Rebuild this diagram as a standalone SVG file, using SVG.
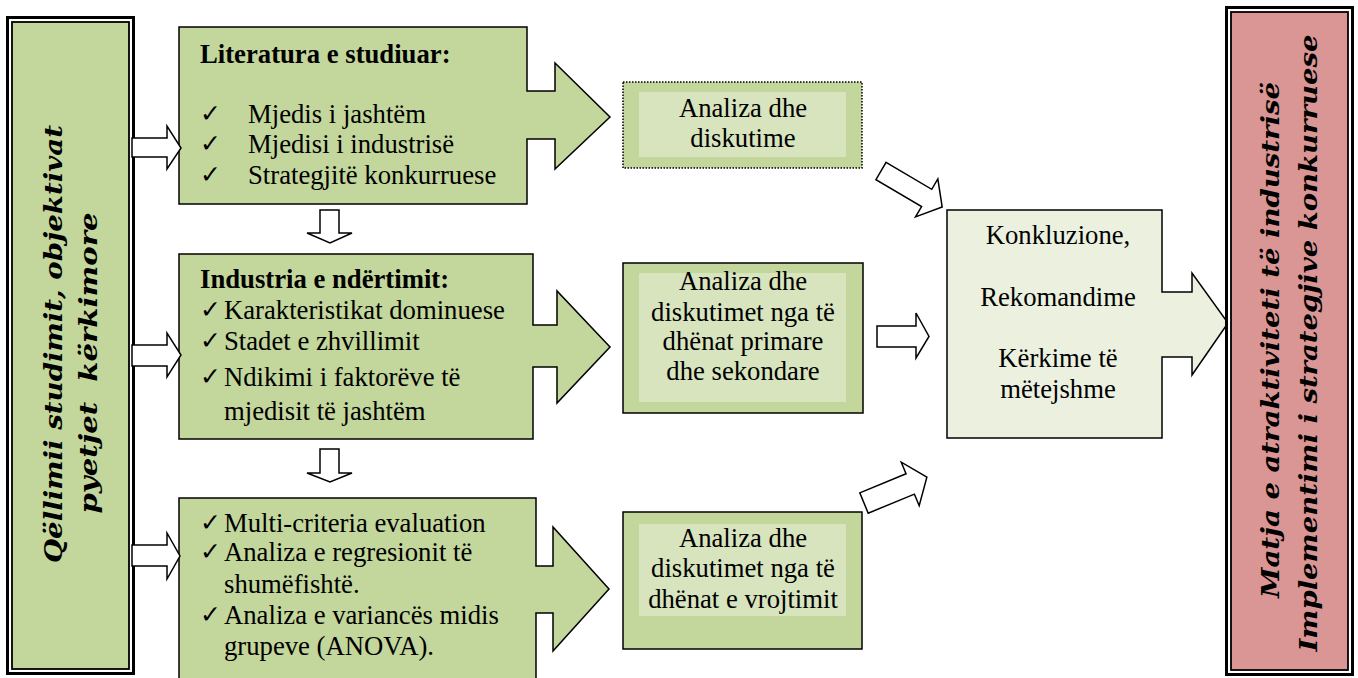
<svg xmlns="http://www.w3.org/2000/svg" width="1358" height="678" viewBox="0 0 1358 678">
  <style>
    .frame-out{fill:#fff;stroke:#000;stroke-width:3}
    .frame-in{stroke:#000;stroke-width:1.8}
    .green{fill:#c3d69b}
    .pink{fill:#d99694}
    .node{fill:#c3d69b;stroke:#000;stroke-width:1.5;stroke-linejoin:miter}
    .light{fill:#ebf1de;stroke:#000;stroke-width:1.5;stroke-linejoin:miter}
    .inner{fill:#d7e4bd}
    .hollow{fill:#fff;stroke:#000;stroke-width:1.5;stroke-linejoin:miter}
    .t{font-family:"Liberation Serif","Times New Roman",serif;font-size:26.7px;fill:#000}
    .b{font-weight:bold}
    .c{text-anchor:middle}
    .chk{font-family:"DejaVu Sans",sans-serif;font-size:25px;fill:#000}
    .rot{font-family:"DejaVu Serif",serif;font-weight:bold;font-style:italic;font-size:25px;fill:#000;text-anchor:middle}
  </style>

  <!-- left column: aim, objectives, questions -->
  <g id="aim">
    <rect class="frame-out" x="7.5" y="17.5" width="126" height="656"/>
    <rect class="frame-in green" x="12" y="22" width="117" height="647"/>
    <text class="rot" transform="translate(62,344) rotate(-90)" textLength="438" lengthAdjust="spacingAndGlyphs">Qëllimii studimit, objektivat</text>
    <text class="rot" transform="translate(97,363) rotate(-90)" textLength="301" lengthAdjust="spacingAndGlyphs" xml:space="preserve">pyetjet  kërkimore</text>
  </g>

  <!-- literature block -->
  <g id="literature">
    <path class="node" d="M179,27 H527 V91 H555 V63 L610,117 L555,169 V139 H527 V204 H179 Z"/>
    <text class="t b" x="200" y="63">Literatura e studiuar:</text>
    <text class="chk" x="200" y="122">✓</text>
    <text class="chk" x="200" y="152">✓</text>
    <text class="chk" x="200" y="183">✓</text>
    <text class="t" x="248" y="123">Mjedis i jashtëm</text>
    <text class="t" x="248" y="153">Mjedisi i industrisë</text>
    <text class="t" x="248" y="184">Strategjitë konkurruese</text>
  </g>

  <!-- construction industry block -->
  <g id="industry">
    <path class="node" d="M179,254 H533 V325 H557 V291 L610,347 L557,403 V367 H533 V439 H179 Z"/>
    <text class="t b" x="200" y="288">Industria e ndërtimit:</text>
    <text class="chk" x="200" y="318">✓</text>
    <text class="chk" x="200" y="349">✓</text>
    <text class="chk" x="200" y="385">✓</text>
    <text class="t" x="224" y="319">Karakteristikat dominuese</text>
    <text class="t" x="224" y="350">Stadet e zhvillimit</text>
    <text class="t" x="224" y="386">Ndikimi i faktorëve të</text>
    <text class="t" x="224" y="420">mjedisit të jashtëm</text>
  </g>

  <!-- methods block -->
  <g id="methods">
    <path class="node" d="M179,498 H536 V566 H553 V527 L609,589 L553,651 V613 H536 V690 H179 Z"/>
    <text class="chk" x="200" y="531">✓</text>
    <text class="chk" x="200" y="560">✓</text>
    <text class="chk" x="200" y="623">✓</text>
    <text class="t" x="224" y="532">Multi-criteria evaluation</text>
    <text class="t" x="224" y="561">Analiza e regresionit të</text>
    <text class="t" x="224" y="593">shumëfishtë.</text>
    <text class="t" x="224" y="624">Analiza e variancës midis</text>
    <text class="t" x="224" y="655">grupeve (ANOVA).</text>
  </g>

  <!-- analysis boxes -->
  <g id="analysis-1">
    <rect class="green" x="623" y="82" width="239" height="86" stroke="#000" stroke-width="1.5" stroke-dasharray="1.5 1.5"/>
    <rect class="inner" x="639" y="92" width="207" height="65"/>
    <text class="t c" x="743" y="117">Analiza dhe</text>
    <text class="t c" x="743" y="147">diskutime</text>
  </g>
  <g id="analysis-2">
    <rect class="node" x="623" y="263" width="240" height="150"/>
    <rect class="inner" x="639" y="273" width="207" height="129"/>
    <text class="t c" x="743" y="290">Analiza dhe</text>
    <text class="t c" x="743" y="321">diskutimet nga të</text>
    <text class="t c" x="743" y="350">dhënat primare</text>
    <text class="t c" x="743" y="380">dhe sekondare</text>
  </g>
  <g id="analysis-3">
    <rect class="node" x="623" y="512" width="239" height="137"/>
    <rect class="inner" x="639" y="524" width="207" height="92"/>
    <text class="t c" x="743" y="547">Analiza dhe</text>
    <text class="t c" x="743" y="577">diskutimet nga të</text>
    <text class="t c" x="743" y="608">dhënat e vrojtimit</text>
  </g>

  <!-- conclusions block -->
  <g id="conclusions">
    <path class="light" d="M947,210 H1162 V292 H1192 V273 L1228,323 L1192,375 V357 H1162 V438 H947 Z"/>
    <text class="t c" x="1058" y="244">Konkluzione,</text>
    <text class="t c" x="1058" y="306">Rekomandime</text>
    <text class="t c" x="1058" y="367">Kërkime të</text>
    <text class="t c" x="1058" y="398">mëtejshme</text>
  </g>

  <!-- right column: outcome -->
  <g id="outcome">
    <rect class="frame-out" x="1226.5" y="7.5" width="126" height="667"/>
    <rect class="frame-in pink" x="1231" y="12" width="117" height="658"/>
    <text class="rot" transform="translate(1279,340) rotate(-90)" textLength="516" lengthAdjust="spacingAndGlyphs">Matja e atraktiviteti të industrisë</text>
    <text class="rot" transform="translate(1317,343) rotate(-90)" textLength="617" lengthAdjust="spacingAndGlyphs">Implementimi i strategjive konkurruese</text>
  </g>

  <!-- hollow block arrows -->
  <g id="connectors">
    <path class="hollow" d="M132,138 H167 V126 L181,148 L167,169 V157 H132 Z"/>
    <path class="hollow" d="M132,345 H167 V333 L181,355 L167,377 V366 H132 Z"/>
    <path class="hollow" d="M132,545 H167 V533 L180,556 L167,579 V566 H132 Z"/>
    <path class="hollow" d="M320,210 H339 V233 H352 L330,243 L307,233 H320 Z"/>
    <path class="hollow" d="M320,449 H339 V473 H352 L330,482 L307,473 H320 Z"/>
    <path class="hollow" transform="translate(881,171) rotate(30.5)" d="M0,-10 H53 V-22 L71,0 L53,22 V10 H0 Z"/>
    <path class="hollow" d="M877,326 H916 V313 L929,336.5 L916,358 V347 H877 Z"/>
    <path class="hollow" transform="translate(864,503) rotate(-22.4)" d="M0,-11 H50 V-23.5 L68,0 L50,23.5 V11 H0 Z"/>
  </g>
</svg>
